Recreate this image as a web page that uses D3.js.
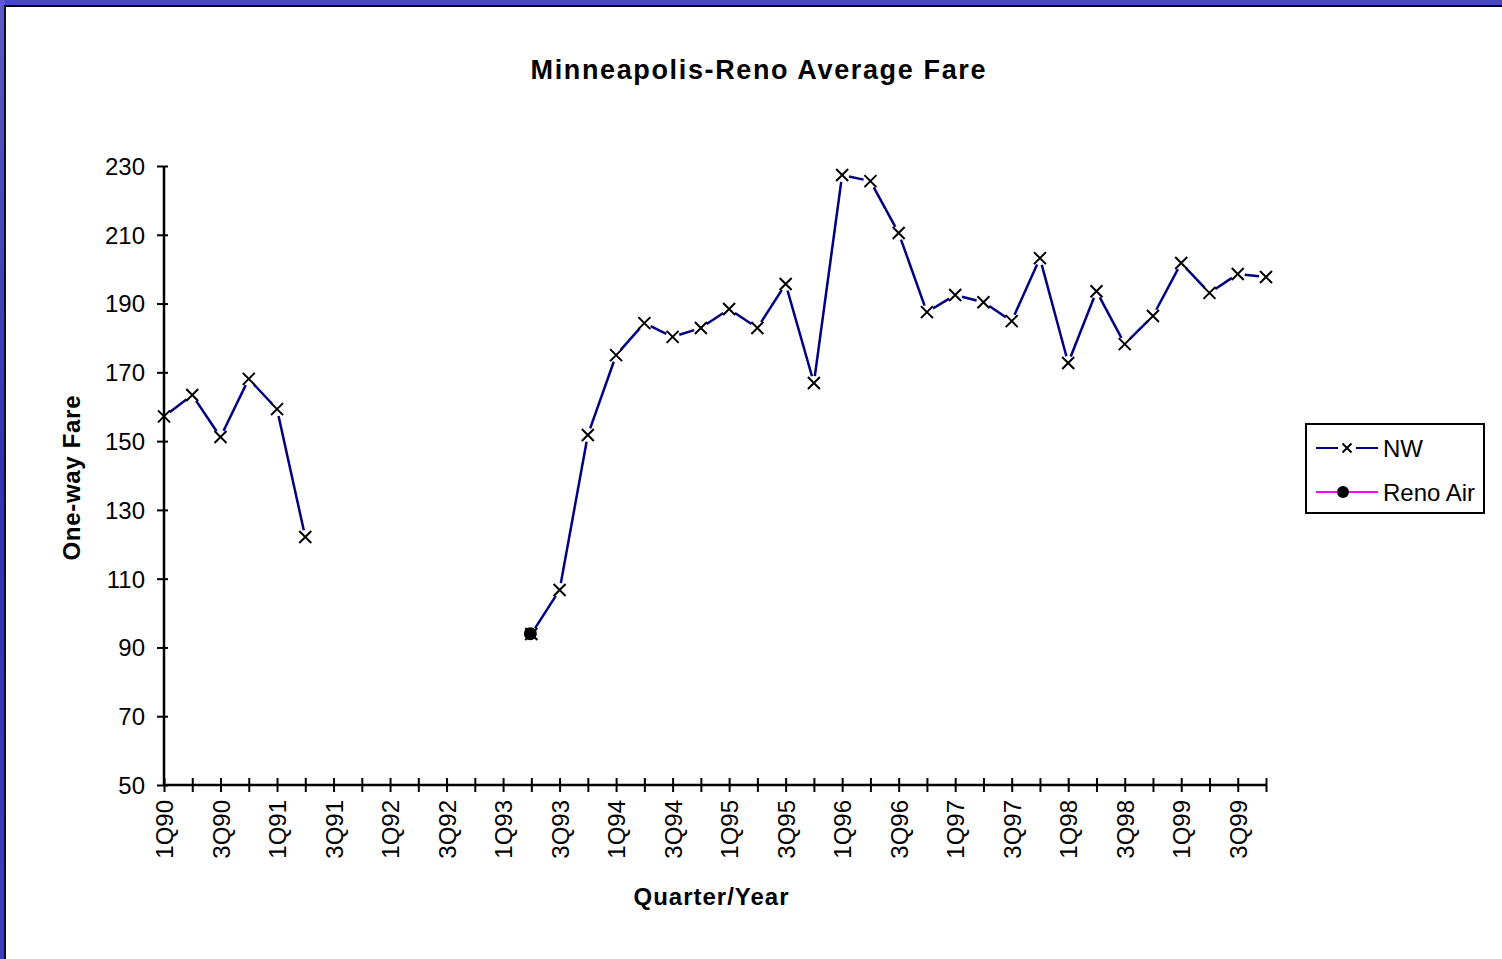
<!DOCTYPE html>
<html><head><meta charset="utf-8">
<script src="https://cdn.jsdelivr.net/npm/d3@7"></script>
<style>
html,body{margin:0;padding:0;background:#fff;}
svg{display:block;font-family:"Liberation Sans",Arial,sans-serif;}
</style></head>
<body>
<svg id="chart" width="1502" height="959"></svg>
<script>
const quarters = [];
for (let y = 90; y <= 99; y++) for (let q = 1; q <= 4; q++) quarters.push(q + "Q" + y);
const nwValues = [157.2, 163.4, 151.2, 168.1, 159.3, 122.1,
  null, null, null, null, null, null, null,
  93.9, 106.7, 151.8, 175.0, 184.3, 180.3, 182.9, 188.4, 182.9, 195.7, 166.9,
  227.4, 225.6, 210.5, 187.5, 192.5, 190.4, 184.9, 203.2, 172.7, 193.6, 178.2, 186.4,
  201.8, 193.1, 198.6, 197.7];
const renoValues = [null,null,null,null,null,null,null,null,null,null,null,null,null,
  94.0, null,null,null,null,null,null,null,null,null,null,null,null,null,null,null,null,
  null,null,null,null,null,null,null,null,null,null];
const yTicks = [50, 70, 90, 110, 130, 150, 170, 190, 210, 230];
const xLabels = quarters.filter((d, i) => i % 2 === 0);

const svg = d3.select("#chart");
// slide frame
const grad = svg.append("defs").append("linearGradient").attr("id","lg").attr("x1",0).attr("x2",0).attr("y1",0).attr("y2",1);
grad.append("stop").attr("offset","0").attr("stop-color","#5a5ac8");
grad.append("stop").attr("offset","0.5").attr("stop-color","#3232b4");
grad.append("stop").attr("offset","1").attr("stop-color","#3c3cbe");
svg.append("rect").attr("x",0).attr("y",0).attr("width",1502).attr("height",6).attr("fill","#4747bf");
svg.append("rect").attr("x",0).attr("y",0).attr("width",5).attr("height",959).attr("fill","url(#lg)");
svg.append("rect").attr("x",5).attr("y",5).attr("width",1497).attr("height",2).attr("fill","#000");
svg.append("rect").attr("x",4).attr("y",5).attr("width",2).attr("height",954).attr("fill","#111");

const x = d3.scalePoint().domain(quarters).range([164, 1266]);
const y = d3.scaleLinear().domain([50, 230]).range([785, 166]);

// y axis
const yAxis = svg.append("g").attr("transform","translate(164,0)")
  .call(d3.axisLeft(y).tickValues(yTicks).tickSize(7).tickSizeOuter(0).tickPadding(12));
yAxis.select(".domain").attr("stroke","#000").attr("stroke-width",2.5).attr("d","M0,166V785");
yAxis.selectAll(".tick line").attr("stroke","#000").attr("stroke-width",2).attr("x1",4);
yAxis.selectAll(".tick text").attr("font-size","24px").attr("fill","#000")
  .attr("font-family","Liberation Sans, Arial, sans-serif").attr("dy","0.35em").attr("x",-19);

// x axis
const xAxis = svg.append("g").attr("transform","translate(0,785)")
  .call(d3.axisBottom(x).tickSize(6).tickSizeOuter(0).tickFormat(d => xLabels.includes(d) ? d : ""));
xAxis.select(".domain").attr("stroke","#000").attr("stroke-width",2.5).attr("d","M164,0H1267");
xAxis.selectAll(".tick line").attr("stroke","#000").attr("stroke-width",2).attr("y1",-7).attr("y2",7);
xAxis.selectAll(".tick text").attr("font-size","24px").attr("fill","#000")
  .attr("font-family","Liberation Sans, Arial, sans-serif")
  .attr("transform","rotate(-90)").attr("text-anchor","end").attr("x",-15).attr("y",0).attr("dy","0.36em");

// NW line segments with gaps near markers
const gap = 7;
const segs = [];
for (let i = 0; i < quarters.length - 1; i++) {
  if (nwValues[i] != null && nwValues[i+1] != null) {
    const x1 = x(quarters[i]), y1 = y(nwValues[i]), x2 = x(quarters[i+1]), y2 = y(nwValues[i+1]);
    const L = Math.hypot(x2-x1, y2-y1), ux = (x2-x1)/L, uy = (y2-y1)/L;
    segs.push([x1+ux*gap, y1+uy*gap, x2-ux*gap, y2-uy*gap]);
  }
}
svg.append("g").selectAll("line").data(segs).join("line")
  .attr("x1",d=>d[0]).attr("y1",d=>d[1]).attr("x2",d=>d[2]).attr("y2",d=>d[3])
  .attr("stroke","#000080").attr("stroke-width",2.5);

const xm = 6;
const nwPts = quarters.map((q,i)=>({q, v:nwValues[i]})).filter(d=>d.v!=null);
svg.append("g").selectAll("path").data(nwPts).join("path")
  .attr("d", d => { const cx = x(d.q), cy = y(d.v);
    return `M${cx-xm},${cy-xm}L${cx+xm},${cy+xm}M${cx-xm},${cy+xm}L${cx+xm},${cy-xm}`; })
  .attr("stroke","#000").attr("stroke-width",2);

const renoPts = quarters.map((q,i)=>({q, v:renoValues[i]})).filter(d=>d.v!=null);
svg.append("g").selectAll("circle").data(renoPts).join("circle")
  .attr("cx", d => x(d.q) - 1).attr("cy", d => y(d.v)).attr("r", 6.5).attr("fill","#000");

// titles
svg.append("text").attr("x",758).attr("y",79).attr("text-anchor","middle")
  .attr("font-size","27px").attr("font-weight","bold")
  .attr("textLength",455).attr("lengthAdjust","spacing").text("Minneapolis-Reno Average Fare");
svg.append("text").attr("x",711).attr("y",905).attr("text-anchor","middle")
  .attr("font-size","24px").attr("font-weight","bold")
  .attr("textLength",155).attr("lengthAdjust","spacing").text("Quarter/Year");
svg.append("text").attr("transform","translate(80,478) rotate(-90)").attr("text-anchor","middle")
  .attr("font-size","24px").attr("font-weight","bold")
  .attr("textLength",165).attr("lengthAdjust","spacing").text("One-way Fare");

// legend
const lg = svg.append("g");
lg.append("rect").attr("x",1306).attr("y",424).attr("width",178).attr("height",89)
  .attr("fill","#fff").attr("stroke","#000").attr("stroke-width",2);
const series = [{name:"NW", color:"#000080", marker:"x"}, {name:"Reno Air", color:"#ff00ff", marker:"o"}];
series.forEach((s, i) => {
  const cy = 448 + i*44;
  if (s.marker === "x") {
    lg.append("line").attr("x1",1316).attr("x2",1338).attr("y1",cy).attr("y2",cy).attr("stroke",s.color).attr("stroke-width",2);
    lg.append("line").attr("x1",1356).attr("x2",1378).attr("y1",cy).attr("y2",cy).attr("stroke",s.color).attr("stroke-width",2);
    lg.append("path").attr("d",`M${1347-4.5},${cy-4.5}L${1347+4.5},${cy+4.5}M${1347-4.5},${cy+4.5}L${1347+4.5},${cy-4.5}`)
      .attr("stroke","#000").attr("stroke-width",2);
  } else {
    lg.append("line").attr("x1",1316).attr("x2",1378).attr("y1",cy).attr("y2",cy).attr("stroke",s.color).attr("stroke-width",2);
    lg.append("circle").attr("cx",1343).attr("cy",cy).attr("r",6).attr("fill","#000");
  }
  lg.append("text").attr("x",1383).attr("y",cy).attr("dy","0.36em").attr("font-size","24px").text(s.name);
});
</script>
</body></html>
